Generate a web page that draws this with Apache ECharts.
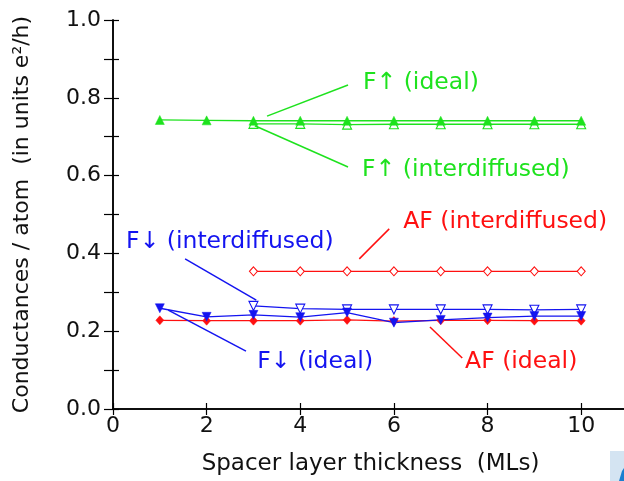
<!DOCTYPE html>
<html>
<head>
<meta charset="utf-8">
<script src="https://cdn.jsdelivr.net/npm/echarts@6/dist/echarts.min.js"></script>
<style>
  html, body { margin: 0; padding: 0; background: #fff; }
  #chart { width: 624px; height: 481px; }
</style>
</head>
<body>
<div id="chart"></div>
<script>
// Spacer layer thickness (MLs)
const thickness = [1, 2, 3, 4, 5, 6, 7, 8, 9, 10];

// Conductance per atom, units of e^2/h (null = not computed)
const upIdeal        = [0.743, 0.742, 0.741, 0.741, 0.741, 0.741, 0.741, 0.741, 0.741, 0.741];
const upInterdiff    = [null, null, 0.733, 0.733, 0.731, 0.732, 0.732, 0.732, 0.732, 0.732];
const afInterdiff    = [null, null, 0.354, 0.354, 0.354, 0.354, 0.354, 0.354, 0.354, 0.354];
const downInterdiff  = [null, null, 0.265, 0.258, 0.256, 0.256, 0.256, 0.256, 0.255, 0.256];
const downIdeal      = [0.259, 0.237, 0.242, 0.236, 0.248, 0.222, 0.229, 0.235, 0.239, 0.239];
const afIdeal        = [0.228, 0.227, 0.227, 0.227, 0.229, 0.226, 0.228, 0.228, 0.227, 0.227];

const xTicks = [0, 2, 4, 6, 8, 10];
const yTicks = [0.0, 0.2, 0.4, 0.6, 0.8, 1.0];

const GREEN = '#1ee21e';
const RED = '#ff1010';
const BLUE = '#1414f0';
const FONT = '"DejaVu Sans", Verdana, sans-serif';

// Callout labels: leader line from (x1,y1) to (x2,y2), text anchored at (tx,ty), in data units
const callouts = [
  { text: 'F\u2191 (ideal)',          color: GREEN, x1: 3.29, y1: 0.753, x2: 5.02, y2: 0.833, tx: 5.34, ty: 0.838 },
  { text: 'F\u2191 (interdiffused)',  color: GREEN, x1: 3.03, y1: 0.728, x2: 5.02, y2: 0.622, tx: 5.32, ty: 0.614 },
  { text: 'AF (interdiffused)',       color: RED,   x1: 5.26, y1: 0.386, x2: 5.90, y2: 0.463, tx: 6.20, ty: 0.481 },
  { text: 'F\u2193 (interdiffused)',  color: BLUE,  x1: 1.54, y1: 0.386, x2: 3.06, y2: 0.280, tx: 0.28, ty: 0.429 },
  { text: 'F\u2193 (ideal)',          color: BLUE,  x1: 1.18, y1: 0.254, x2: 2.84, y2: 0.149, tx: 3.08, ty: 0.121 },
  { text: 'AF (ideal)',               color: RED,   x1: 6.77, y1: 0.211, x2: 7.46, y2: 0.131, tx: 7.52, ty: 0.121 }
];

function pairs(vals) {
  return thickness.map((t, i) => [t, vals[i]]).filter(p => p[1] !== null);
}

function lineSeries(name, vals, color, symbol, filled, rotate) {
  return {
    name: name,
    type: 'line',
    data: pairs(vals),
    symbol: symbol,
    symbolSize: symbol === 'diamond' ? [8, 9] : 9,
    symbolRotate: rotate || 0,
    showAllSymbol: true,
    lineStyle: { color: color, width: 1.3 },
    itemStyle: filled
      ? { color: color, borderColor: color, borderWidth: 0.5 }
      : { color: '#ffffff', borderColor: color, borderWidth: 1.1 },
    emphasis: { disabled: true },
    animation: false,
    z: filled ? 3 : 2
  };
}

const chart = echarts.init(document.getElementById('chart'), null, { renderer: 'canvas' });

const axisLine = { show: true, lineStyle: { color: '#000', width: 1.5 } };
const tickStyle = { show: true, inside: true, length: 6, lineStyle: { color: '#000', width: 1.2 } };

chart.setOption({
  animation: false,
  backgroundColor: '#fff',
  grid: { left: 113, top: 20, right: -4, bottom: 72, containLabel: false, outerBoundsMode: 'none' },
  xAxis: [
    {
      type: 'value', min: 0, max: 11, interval: 2,
      axisLine: axisLine, axisTick: tickStyle, splitLine: { show: false },
      axisLabel: {
        color: '#111', fontFamily: FONT, fontSize: 22, margin: 6,
        showMaxLabel: false,
        formatter: v => xTicks.includes(v) ? String(v) : ''
      },
      name: 'Spacer layer thickness  (MLs)',
      nameLocation: 'middle', nameGap: 44,
      nameTextStyle: { color: '#111', fontFamily: FONT, fontSize: 23 }
    },
    {
      type: 'value', position: 'top', min: 0, max: 11, interval: 2,
      axisLine: axisLine, axisTick: tickStyle, axisLabel: { show: false }, splitLine: { show: false }
    }
  ],
  yAxis: [
    {
      type: 'value', min: 0, max: 1.0, interval: 0.1,
      axisLine: axisLine, axisTick: tickStyle, splitLine: { show: false },
      axisLabel: {
        color: '#111', fontFamily: FONT, fontSize: 22, margin: 12,
        formatter: v => yTicks.some(t => Math.abs(t - v) < 1e-6) ? v.toFixed(1) : ''
      },
      name: 'Conductances / atom  (in units e\u00b2/h)',
      nameLocation: 'middle', nameGap: 80,
      nameTextStyle: { color: '#111', fontFamily: FONT, fontSize: 22 }
    },
    {
      type: 'value', position: 'right', min: 0, max: 1.0, interval: 0.1,
      axisLine: axisLine,
      axisTick: { show: true, inside: true, length: 9, lineStyle: { color: '#000', width: 1.2 } },
      axisLabel: { show: false }, splitLine: { show: false }
    }
  ],
  series: [
    lineSeries('AF (ideal)', afIdeal, RED, 'diamond', true),
    lineSeries('AF (interdiffused)', afInterdiff, RED, 'diamond', false),
    lineSeries('F\u2193 (ideal)', downIdeal, BLUE, 'triangle', true, 180),
    lineSeries('F\u2193 (interdiffused)', downInterdiff, BLUE, 'triangle', false, 180),
    lineSeries('F\u2191 (ideal)', upIdeal, GREEN, 'triangle', true),
    lineSeries('F\u2191 (interdiffused)', upInterdiff, GREEN, 'triangle', false)
  ]
});

// Callout leader lines and texts, placed through the axes' own scales
const graphics = [];
callouts.forEach(c => {
  const p1 = chart.convertToPixel({ xAxisIndex: 0, yAxisIndex: 0 }, [c.x1, c.y1]);
  const p2 = chart.convertToPixel({ xAxisIndex: 0, yAxisIndex: 0 }, [c.x2, c.y2]);
  const pt = chart.convertToPixel({ xAxisIndex: 0, yAxisIndex: 0 }, [c.tx, c.ty]);
  graphics.push({
    type: 'line', silent: true, z: 10,
    shape: { x1: p1[0], y1: p1[1], x2: p2[0], y2: p2[1] },
    style: { stroke: c.color, lineWidth: 1.5 }
  });
  graphics.push({
    type: 'text', silent: true, z: 10, x: pt[0], y: pt[1],
    style: {
      text: c.text, fill: c.color, font: '23.5px ' + FONT,
      textAlign: 'left', textVerticalAlign: 'middle'
    }
  });
});

// Small corner tab at the lower right
graphics.push({
  type: 'rect', silent: true, z: 1, left: 610, top: 451,
  shape: { width: 14, height: 30 },
  style: { fill: '#d4e4f2' }
});
graphics.push({
  type: 'polygon', silent: true, z: 2,
  shape: { points: [[619, 481], [622, 471], [624, 468], [624, 481]] },
  style: { fill: '#1a7fd0' }
});

chart.setOption({ graphic: graphics });
</script>
</body>
</html>
